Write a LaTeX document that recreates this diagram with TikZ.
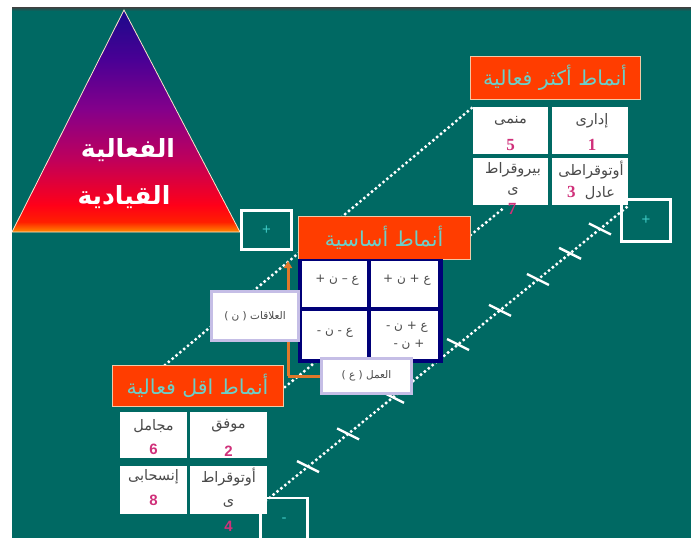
\documentclass[tikz,border=0pt]{standalone}
\usepackage{fontspec}
\usetikzlibrary{arrows.meta,calc}
\TeXXeTstate=1
\newfontfamily\arabicfont[Script=Arabic]{DejaVu Sans}
\newfontfamily\numserif{Liberation Serif}
\newfontfamily\numsans{Liberation Sans}
\definecolor{bg}{HTML}{006963}
\definecolor{tred}{HTML}{FF3D00}
\definecolor{tborder}{HTML}{F2C9A6}
\definecolor{tcyan}{HTML}{6CCFC8}
\definecolor{numc}{HTML}{D0307A}
\definecolor{txt}{HTML}{4A4A4A}
\definecolor{navyc}{HTML}{000078}
\definecolor{lav}{HTML}{C5BEE6}
\definecolor{orangec}{HTML}{E0782A}
\definecolor{pmcyan}{HTML}{3FC9C4}
\definecolor{triA}{HTML}{1A0A8A}
\definecolor{triB}{HTML}{4A0095}
\definecolor{triC}{HTML}{85008A}
\definecolor{triD}{HTML}{C0005A}
\definecolor{triE}{HTML}{FF0018}
\definecolor{triF}{HTML}{FF2000}
\definecolor{triG}{HTML}{FFA000}
\pgfdeclarelayer{back}
\pgfdeclarelayer{lines}
\pgfsetlayers{back,lines,main}
\tikzset{
  ttl/.style={fill=tred, draw=tborder, line width=0.8pt, text=tcyan,
    font=\arabicfont\fontsize{20.5}{24}\selectfont, inner sep=0},
  cell/.style={fill=white, inner sep=0},
  ctxt/.style={text=txt, font=\arabicfont\fontsize{14.5}{16}\selectfont, inner sep=0},
  nserif/.style={text=numc, font=\numserif\bfseries\fontsize{17}{17}\selectfont, inner sep=0},
  nsans/.style={text=numc, font=\numsans\bfseries\fontsize{15}{15}\selectfont, inner sep=0},
  gtxt/.style={text=txt, font=\arabicfont\fontsize{12}{14}\selectfont, inner sep=0},
  lbl/.style={fill=white, draw=lav, line width=3pt, text=txt,
    font=\arabicfont\fontsize{10.5}{12}\selectfont, inner sep=0},
  pm/.style={draw=white, line width=2.5pt, text=pmcyan,
    font=\numsans\fontsize{15}{15}\selectfont, inner sep=0},
  dots/.style={white, line width=3.4pt, dash pattern=on 0pt off 5pt, line cap=round},
  tickmark/.style={white, line width=2.4pt},
  tritxt/.style={text=white, font=\arabicfont\bfseries\fontsize{25}{28}\selectfont, inner sep=0},
}
\begin{document}
\begin{tikzpicture}[x=1pt,y=-1pt]
\useasboundingbox (0,0) rectangle (691,538);
\begin{pgfonlayer}{back}
  \fill[white] (0,0) rectangle (691,538);
  \fill[bg] (12,7) rectangle (691,538);
  \shade[top color=black!75, bottom color=bg] (12,7) rectangle (691,11);
  \begin{scope}
    \clip (124,10) -- (240,232) -- (12,232) -- cycle;
    \shade[top color=triA, bottom color=triB] (10,8) rectangle (242,60.5);
    \shade[top color=triB, bottom color=triC] (10,60) rectangle (242,110.5);
    \shade[top color=triC, bottom color=triD] (10,110) rectangle (242,160.5);
    \shade[top color=triD, bottom color=triE] (10,160) rectangle (242,205.5);
    \shade[top color=triE, bottom color=triF] (10,205) rectangle (242,222.5);
    \shade[top color=triF, bottom color=triG] (10,222) rectangle (242,234);
  \end{scope}
  \draw[white!80!orange, line width=0.8pt] (124,10) -- (240,232) -- (12,232) -- cycle;
\end{pgfonlayer}
% triangle text
\node[tritxt] (tt1) at (128,150) {\beginR الفعالية\endR};
\node[tritxt] (tt2) at (124,197) {\beginR القيادية\endR};
% coordinates for the dotted connectors
\coordinate (a1) at (165,365);
\coordinate (a2) at (473,107);
\coordinate (b1) at (285,387);
\coordinate (b2) at (505,207);
\coordinate (k1) at (262,504);
\coordinate (k2) at (627,207);
\coordinate (oc) at (288,376);
\coordinate (otip) at (288,261);
\begin{pgfonlayer}{lines}
  \draw[dots] (a1) -- (a2);
  \draw[dots] (b1) -- (b2);
  \draw[dots] (k1) -- (k2);
  \foreach \t in {0.126,0.236,0.359,0.537,0.652,0.756,0.844,0.926}
    \draw[tickmark] ($(k1)!\t!(k2)+(-11,-5.5)$) -- ($(k1)!\t!(k2)+(11,5.5)$);
  \draw[orangec, line width=3pt, -{Triangle[length=7pt,width=8pt]}] (oc) -- (otip);
  \draw[orangec, line width=3pt] (oc) -- (320,376);
\end{pgfonlayer}
% plus / minus boxes
\node[pm, minimum width=50, minimum height=39] (pL) at (266.5,230) {+};
\node[pm, minimum width=49, minimum height=42] (pR) at (646,220.5) {+};
\node[pm, minimum width=47, minimum height=44] (mB) at (284,520) {-};
% top group
\node[ttl, minimum width=170, minimum height=43] (ttop) at (555,77.5) {\beginR أنماط أكثر فعالية\endR};
\node[cell, minimum width=75, minimum height=47] (c5) at (510.5,130.5) {};
\node[cell, minimum width=76, minimum height=47] (c1) at (590,130.5) {};
\node[cell, minimum width=75, minimum height=47] (c7) at (510.5,181.5) {};
\node[cell, minimum width=76, minimum height=47] (c3) at (590,181.5) {};
\node[ctxt] (c5w) at (510.5,121) {\beginR منمى\endR};
\node[nserif] (c5n) at (510.5,145) {5};
\node[ctxt] (c1w) at (592,121) {\beginR إدارى\endR};
\node[nserif] (c1n) at (592,145) {1};
\node[ctxt] (c7w) at (513,170) {\beginR بيروقراط\endR};
\node[ctxt] (c7w2) at (513,191) {\beginR ى\endR};
\node[nserif] (c7n) at (512,209) {7};
\node[ctxt] (c3w) at (591,170) {\beginR أوتوقراطى\endR};
\node[ctxt] (c3w2) at (591,193) {{\numserif\bfseries\fontsize{17}{17}\selectfont\textcolor{numc}{3}}\ \ عادل};
% middle group
\node[ttl, minimum width=172, minimum height=43] (tmid) at (384,237.5) {\beginR أنماط أساسية\endR};
\fill[navyc] (298,259) rectangle (443,363);
\node[cell, minimum width=65, minimum height=46] (g1) at (334.5,284) {};
\node[cell, minimum width=67, minimum height=46] (g2) at (404.5,284) {};
\node[cell, minimum width=65, minimum height=48] (g3) at (334.5,335) {};
\node[cell, minimum width=67, minimum height=48] (g4) at (404.5,335) {};
\node[gtxt] (g1t) at (337,280) {\beginR ع – ن +\endR};
\node[gtxt] (g2t) at (407,280) {\beginR ع + ن +\endR};
\node[gtxt] (g3t) at (335,333) {\beginR ع - ن -\endR};
\node[gtxt] (g4t) at (407,327) {\beginR ع + ن -\endR};
\node[gtxt] (g4t2) at (409,345) {\beginR + ن -\endR};
\node[lbl, minimum width=87, minimum height=49] (alaqat) at (255,316) {\beginR العلاقات ( ن )\endR};
\node[lbl, minimum width=90, minimum height=35] (amal) at (366.5,376) {\beginR العمل ( ع )\endR};
% bottom group
\node[ttl, minimum width=171, minimum height=41] (tbot) at (197.5,385.5) {\beginR أنماط اقل فعالية\endR};
\node[cell, minimum width=67, minimum height=46] (c6) at (153.5,435) {};
\node[cell, minimum width=77, minimum height=46] (c2) at (228.5,435) {};
\node[cell, minimum width=67, minimum height=48] (c8) at (153.5,490) {};
\node[cell, minimum width=77, minimum height=48] (c4) at (228.5,490) {};
\node[ctxt] (c6w) at (153.5,426) {\beginR مجامل\endR};
\node[nsans] (c6n) at (153.5,449) {6};
\node[ctxt] (c2w) at (228.5,426) {\beginR موفق\endR};
\node[nsans] (c2n) at (228.5,451) {2};
\node[ctxt] (c8w) at (153.5,477) {\beginR إنسحابى\endR};
\node[nsans] (c8n) at (153.5,500) {8};
\node[ctxt] (c4w) at (228.5,477) {\beginR أوتوقراط\endR};
\node[ctxt] (c4w2) at (228.5,503) {\beginR ى\endR};
\node[nsans] (c4n) at (228.5,526) {4};
\end{tikzpicture}
\end{document}
